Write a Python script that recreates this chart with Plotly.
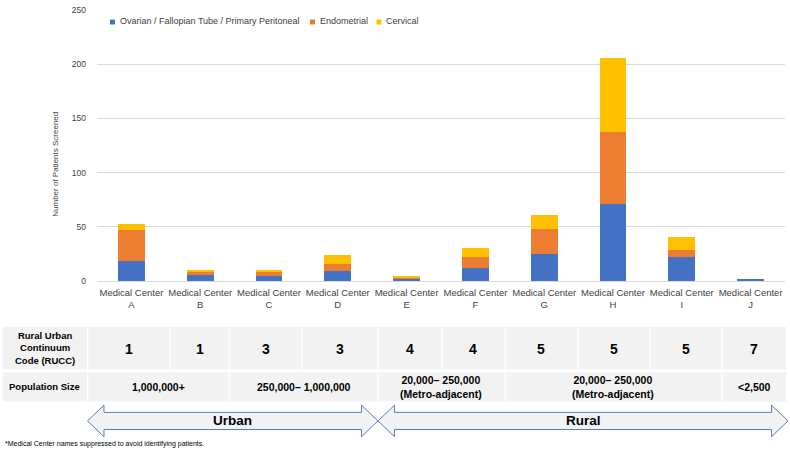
import plotly.graph_objects as go

# ---------------- data ----------------
centers = ["A", "B", "C", "D", "E", "F", "G", "H", "I", "J"]
tick_labels = ["Medical Center<br>" + c for c in centers]
series_names = ["Ovarian / Fallopian Tube / Primary Peritoneal", "Endometrial", "Cervical"]
ovarian = [18, 6, 5, 9, 2, 12, 25, 71, 22, 1]
endometrial = [29, 2, 4, 7, 1, 10, 23, 66, 7, 0]
cervical = [6, 2, 1, 8, 2, 8, 13, 69, 12, 0]
series_values = [ovarian, endometrial, cervical]
series_colors = ["#4472C4", "#ED7D31", "#FFC000"]

rucc_header = "Rural Urban<br>Continuum<br>Code (RUCC)"
rucc = ["1", "1", "3", "3", "4", "4", "5", "5", "5", "7"]
pop_header = "Population Size"
pop_labels = ["1,000,000+", "250,000– 1,000,000", "20,000– 250,000<br>(Metro-adjacent)",
              "20,000– 250,000<br>(Metro-adjacent)", "&lt;2,500"]
pop_spans = [(0, 1), (2, 3), (4, 5), (6, 8), (9, 9)]
region_labels = ["Urban", "Rural"]
footnote = "*Medical Center names suppressed to avoid identifying patients."
y_title = "Number of Patients Screened"

# ---------------- layout geometry (pixels) ----------------
W, H = 790, 451
L, R, T, B = 97, 5, 6, 170
PW, PH = W - L - R, H - T - B
FONT = "Liberation Sans, Arial, sans-serif"
GREY = "#404040"


def px(x):
    return (x - L) / PW


def py(y):
    return (H - B - y) / PH


fig = go.Figure()
for name, vals, col in zip(series_names, series_values, series_colors):
    fig.add_trace(go.Bar(x=tick_labels, y=vals, name=name, marker=dict(color=col, line=dict(width=0)),
                         showlegend=False))

shapes = []
annotations = []

# manual legend (small squares like the original)
legend_sq_x = [110, 310, 376.5]
for name, col, x0 in zip(series_names, series_colors, legend_sq_x):
    shapes.append(dict(type="rect", xref="paper", yref="paper", x0=px(x0), x1=px(x0 + 5),
                       y0=py(20.7), y1=py(15.7), fillcolor=col, line=dict(width=0)))
    annotations.append(dict(xref="paper", yref="paper", x=px(x0 + 7.5), y=py(17), text=name,
                            showarrow=False, xanchor="left", yanchor="middle",
                            font=dict(family=FONT, size=9, color=GREY)))

# y axis title
annotations.append(dict(xref="paper", yref="paper", x=px(56), y=py(163), text=y_title, textangle=-90,
                        showarrow=False, xanchor="center", yanchor="middle",
                        font=dict(family=FONT, size=8, color=GREY)))

# table
col_edges = [2, 87.7, 170, 229.3, 301.7, 377.7, 441.7, 505, 577.7, 650, 721.7, 786.7]
row1 = (327.3, 370.7)
row2 = (373.3, 403.3)
cell_fill = "#F2F2F2"


def cell(x0, x1, y0, y1):
    shapes.append(dict(type="rect", xref="paper", yref="paper", x0=px(x0 + 0.6), x1=px(x1 - 0.6),
                       y0=py(y1), y1=py(y0), fillcolor=cell_fill, line=dict(width=0), layer="below"))


def bold(s):
    return "<b>" + s.replace("<br>", "</b><br><b>") + "</b>"


# header column
cell(col_edges[0], col_edges[1], *row1)
cell(col_edges[0], col_edges[1], *row2)
annotations.append(dict(xref="paper", yref="paper", x=px((col_edges[0] + col_edges[1]) / 2),
                        y=py((row1[0] + row1[1]) / 2), text=bold(rucc_header), showarrow=False,
                        xanchor="center", yanchor="middle",
                        font=dict(family=FONT, size=9.5, color="#000000")))
annotations.append(dict(xref="paper", yref="paper", x=px((col_edges[0] + col_edges[1]) / 2),
                        y=py((row2[0] + row2[1]) / 2), text=bold(pop_header), showarrow=False,
                        xanchor="center", yanchor="middle",
                        font=dict(family=FONT, size=9.5, color="#000000")))

for i, code in enumerate(rucc):
    x0, x1 = col_edges[i + 1], col_edges[i + 2]
    cell(x0, x1, *row1)
    annotations.append(dict(xref="paper", yref="paper", x=px((x0 + x1) / 2), y=py((row1[0] + row1[1]) / 2 + 1),
                            text=bold(code), showarrow=False, xanchor="center", yanchor="middle",
                            font=dict(family=FONT, size=14, color="#000000")))

for lab, (a, b) in zip(pop_labels, pop_spans):
    x0, x1 = col_edges[a + 1], col_edges[b + 2]
    cell(x0, x1, *row2)
    annotations.append(dict(xref="paper", yref="paper", x=px((x0 + x1) / 2), y=py((row2[0] + row2[1]) / 2),
                            text=bold(lab), showarrow=False, xanchor="center", yanchor="middle",
                            font=dict(family=FONT, size=10.5, color="#000000")))


# double arrows
def arrow_path(xl, xr, head=16.5, yc=423, hb=16, hh=8.7):
    pts = [(xl, yc), (xl + head, yc - hb), (xl + head, yc - hh), (xr - head, yc - hh), (xr - head, yc - hb),
           (xr, yc), (xr - head, yc + hb), (xr - head, yc + hh), (xl + head, yc + hh), (xl + head, yc + hb)]
    return "M " + " L ".join(f"{px(x):.5f},{py(y):.5f}" for x, y in pts) + " Z"


arrow_spans = [(87.5, 378), (378, 788)]
for lab, (xl, xr) in zip(region_labels, arrow_spans):
    shapes.append(dict(type="path", xref="paper", yref="paper", path=arrow_path(xl, xr),
                       fillcolor="#F3F3F3", line=dict(color="#5B7DB8", width=1)))
    annotations.append(dict(xref="paper", yref="paper", x=px((xl + xr) / 2), y=py(423), text=bold(lab),
                            showarrow=False, xanchor="center", yanchor="middle",
                            font=dict(family=FONT, size=13.5, color="#000000")))

annotations.append(dict(xref="paper", yref="paper", x=px(3), y=py(446), text=footnote, showarrow=False,
                        xanchor="left", yanchor="middle", font=dict(family=FONT, size=7, color="#000000")))

fig.update_layout(
    width=W, height=H,
    margin=dict(l=L, r=R, t=T, b=B),
    barmode="stack",
    bargap=0.61,
    plot_bgcolor="white", paper_bgcolor="white",
    font=dict(family=FONT, color=GREY),
    shapes=shapes,
    annotations=annotations,
    xaxis=dict(showgrid=False, showline=False, zeroline=False, ticks="",
               ticklabelstandoff=4,
               tickfont=dict(family=FONT, size=9.5, color=GREY)),
    yaxis=dict(range=[0, 250], tick0=0, dtick=50, showgrid=True, gridcolor="#D9D9D9", gridwidth=1,
               zeroline=True, zerolinecolor="#D9D9D9", zerolinewidth=1, showline=False, ticks="",
               ticklabelstandoff=10, tickfont=dict(family=FONT, size=8.5, color=GREY)),
)

fig.write_html("out.html", config={"displayModeBar": False},
               post_script="document.body.style.margin='0';document.body.style.overflow='hidden';")
